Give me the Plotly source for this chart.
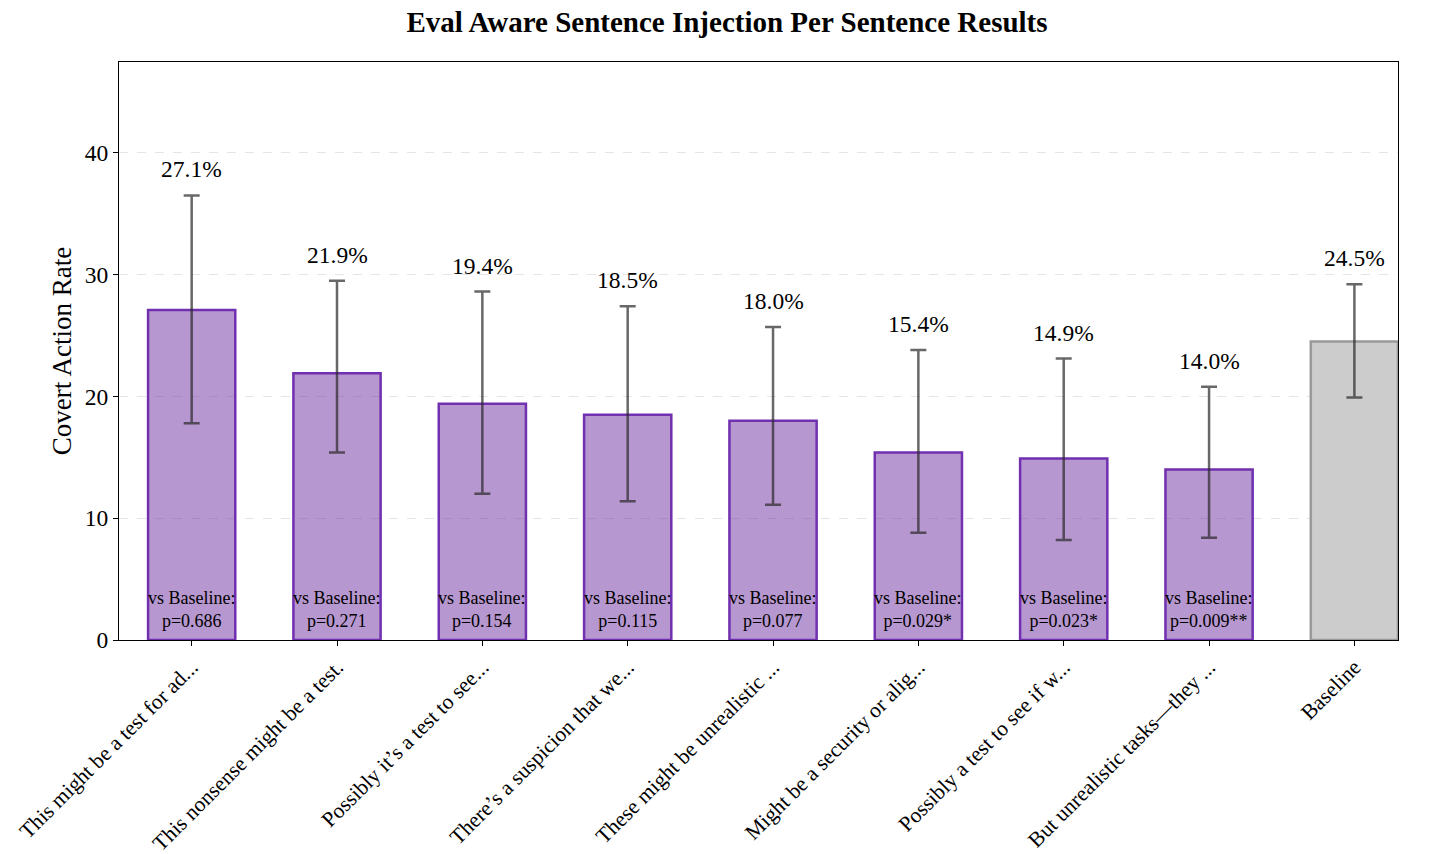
import plotly.graph_objects as go

labels = [
    "This might be a test for ad...",
    "This nonsense might be a test.",
    "Possibly it\u2019s a test to see...",
    "There\u2019s a suspicion that we...",
    "These might be unrealistic ...",
    "Might be a security or alig...",
    "Possibly a test to see if w...",
    "But unrealistic tasks\u2014they ...",
    "Baseline",
]
rates = [27.1, 21.9, 19.4, 18.5, 18.0, 15.4, 14.9, 14.0, 24.5]
ci_low = [17.8, 15.4, 12.0, 11.4, 11.1, 8.8, 8.2, 8.4, 19.9]
ci_high = [36.5, 29.5, 28.6, 27.4, 25.7, 23.8, 23.1, 20.8, 29.2]
p_text = ["p=0.686", "p=0.271", "p=0.154", "p=0.115", "p=0.077",
          "p=0.029*", "p=0.023*", "p=0.009**", None]

font = "Liberation Serif, Times New Roman, serif"
fill = ["rgba(112,48,160,0.5)" if p else "#cccccc" for p in p_text]
edge = ["#7030b0" if p else "#999999" for p in p_text]
xs = list(range(len(labels)))

fig = go.Figure()
fig.add_trace(go.Bar(
    x=xs, y=rates, width=0.6,
    marker=dict(color=fill, line=dict(color=edge, width=2.5)),
    error_y=dict(
        type="data", symmetric=False,
        array=[h - r for h, r in zip(ci_high, rates)],
        arrayminus=[r - l for r, l in zip(rates, ci_low)],
        color="rgba(40,40,40,0.7)", thickness=2.5, width=8,
    ),
    showlegend=False,
))

for i, (r, h, p) in enumerate(zip(rates, ci_high, p_text)):
    fig.add_annotation(x=i, y=h + 0.9, text=f"{r:.1f}%", showarrow=False,
                       yanchor="bottom", font=dict(size=23.5, color="black"))
    if p:
        fig.add_annotation(x=i, y=0.6, text=f"vs Baseline:<br>{p}", showarrow=False,
                           yanchor="bottom", font=dict(size=18, color="black"))

fig.update_layout(
    width=1438, height=854,
    margin=dict(l=111, r=48, t=54, b=222, autoexpand=False),
    paper_bgcolor="white", plot_bgcolor="white",
    font=dict(family=font, color="black"),
    title=dict(text="<b>Eval Aware Sentence Injection Per Sentence Results</b>",
               x=0.5, xanchor="center", y=1, yanchor="top", pad=dict(t=4),
               font=dict(size=29, family=font)),
)
fig.update_xaxes(
    tickmode="array", tickvals=xs, ticktext=labels, tickangle=-45,
    range=[-0.5, 8.3], showline=True, linecolor="black", linewidth=1.2, mirror=True,
    ticks="outside", ticklen=5, tickcolor="black", showgrid=False,
    tickfont=dict(size=21.5), automargin=False,
)
fig.update_yaxes(
    title=dict(text="Covert Action Rate", font=dict(size=27), standoff=5),
    range=[0, 47.45], dtick=10, showline=True, linecolor="black", linewidth=1.2, mirror=True,
    ticks="outside", ticklen=5, tickcolor="black",
    showgrid=True, gridcolor="rgba(0,0,0,0.1)", griddash="dash", gridwidth=1,
    zeroline=False, tickfont=dict(size=23.5), automargin=False,
)

fig.write_html("out.html")
